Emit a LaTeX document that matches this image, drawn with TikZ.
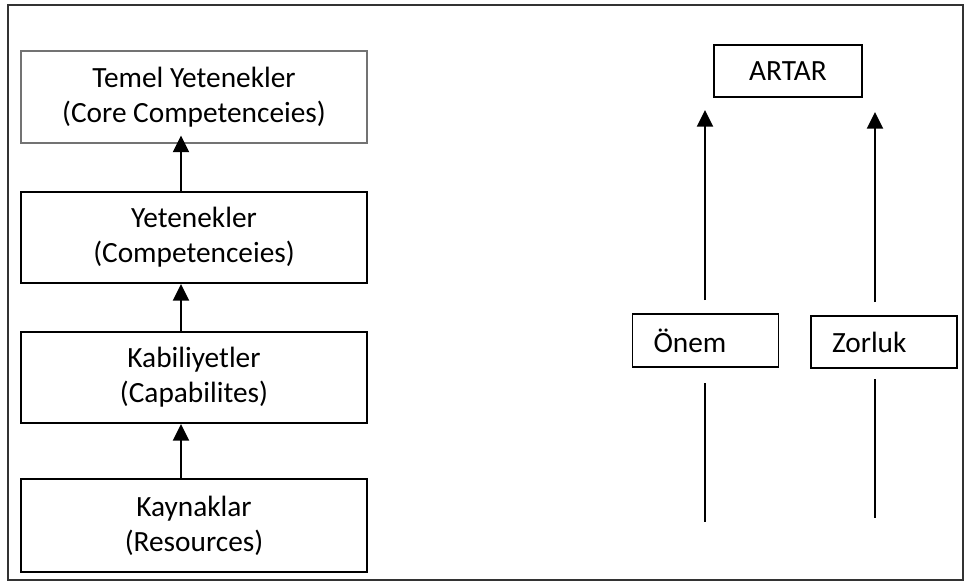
\documentclass[tikz,border=0pt]{standalone}
\usepackage{fontspec}
\setmainfont{Carlito}
\usetikzlibrary{arrows.meta}
\begin{document}
\begin{tikzpicture}[x=0.75pt,y=-0.75pt,
  every node/.style={font=\fontsize{22}{26.3}\selectfont, align=center, inner sep=0pt},
  levelbox/.style={draw=black, line width=1.5pt, minimum width=259.5pt},
  corebox/.style={draw=black!55, line width=0.8pt, minimum width=259.5pt, minimum height=69pt},
  tagbox/.style={draw=black, line width=1.4pt, minimum height=39.5pt, inner xsep=15.75pt, text width=78pt, align=left},
  uparrow/.style={line width=1.6pt, -{Triangle[width=12pt,length=12.5pt]}},
  plainline/.style={line width=1.2pt}
]
\useasboundingbox (0,0) rectangle (965,585);
\draw[line width=1.1pt, black!80] (8,5) rectangle (963,580);

% left column: resource hierarchy
\node[corebox] (core) at (194,97) {Temel Yetenekler\\(Core Competenceies)};
\node[levelbox, minimum height=68.25pt] (comp) at (194,237.5) {Yetenekler\\(Competenceies)};
\node[levelbox, minimum height=68.25pt] (cap) at (194,377.5) {Kabiliyetler\\(Capabilites)};
\node[levelbox, minimum height=69.75pt] (res) at (194,525.5) {Kaynaklar\\(Resources)};

\coordinate (ax) at (181,0);
\draw[uparrow] (res.north -| ax) -- (cap.south -| ax);
\draw[uparrow] (cap.north -| ax) -- (comp.south -| ax);
\draw[uparrow, shorten >=-6pt] (comp.north -| ax) -- (core.south -| ax);

% right side: importance and difficulty
\node[draw=black, line width=1.4pt, minimum width=111pt, minimum height=39pt] (artar) at (788,71) {ARTAR};
\node[tagbox] (onem) at (705.5,340.5) {Önem};
\node[tagbox] (zor) at (884,342) {Zorluk};

\coordinate (l1a) at (705,300);
\coordinate (l1b) at (705,110);
\coordinate (l2a) at (875,302);
\coordinate (l2b) at (875,112);
\draw[uparrow] (l1a) -- (l1b);
\draw[uparrow] (l2a) -- (l2b);

\coordinate (d1a) at (705,383);
\coordinate (d1b) at (705,522);
\coordinate (d2a) at (875,379);
\coordinate (d2b) at (875,518);
\draw[plainline] (d1a) -- (d1b);
\draw[plainline] (d2a) -- (d2b);
\end{tikzpicture}
\end{document}
